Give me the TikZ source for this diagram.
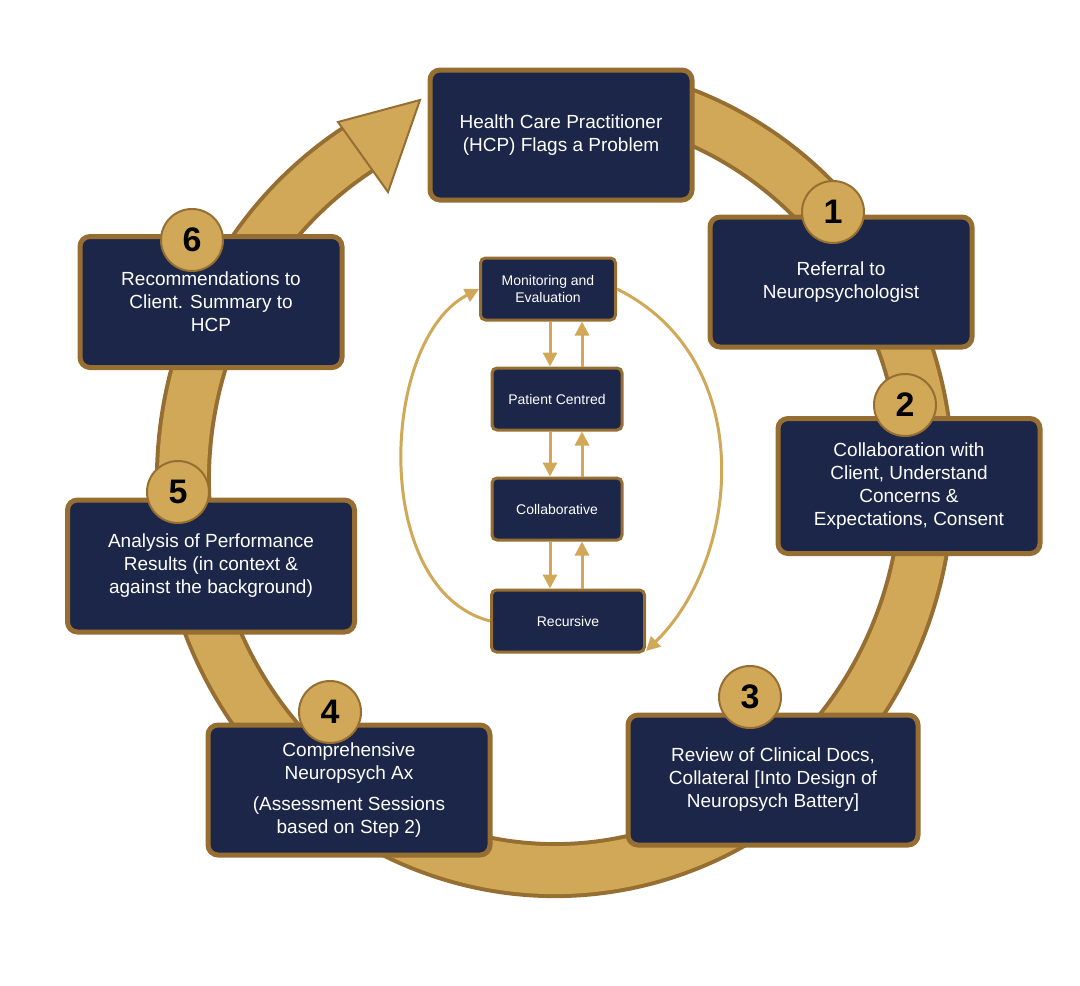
\documentclass[tikz,border=0pt]{standalone}
\usepackage{fontspec}
\setmainfont{Liberation Sans}
\usetikzlibrary{arrows.meta}
\definecolor{navy}{RGB}{28,38,72}
\definecolor{gold}{RGB}{208,168,88}
\definecolor{golddark}{RGB}{150,110,50}
\begin{document}
\begin{tikzpicture}[x=1pt,y=-1pt,
  box/.style={draw=golddark,line width=5pt,fill=navy,rounded corners=10pt,text=white,align=center,font=\fontsize{19}{23}\selectfont,inner sep=0pt},
  cbox/.style={draw=golddark,line width=3pt,fill=navy,rounded corners=5pt,text=white,align=center,font=\fontsize{14}{17}\selectfont,inner sep=0pt},
  badge/.style={circle,draw=golddark,line width=2pt,fill=gold,minimum size=62pt,inner sep=0pt,font=\fontsize{34}{34}\selectfont\bfseries,text=black},
  thin/.style={draw=gold,line width=3pt,-{Triangle[length=14pt,width=14pt]}}]
\useasboundingbox (0,0) rectangle (1080,986);
% ring
\draw[golddark,line width=56pt] (555,480) ++(-70:372 and 390) arc[start angle=-70,end angle=240,x radius=372,y radius=390];
\draw[gold,line width=48pt] (555,480) ++(-70:372 and 390) arc[start angle=-70,end angle=240,x radius=372,y radius=390];
\fill[gold,draw=golddark,line width=2pt] (420,100) -- (338,122) -- (388,192) -- cycle;
% boxes
\node[box,minimum width=262pt,minimum height=130pt] (top) at (561,135) {Health Care Practitioner\\(HCP) Flags a Problem};
\node[box,minimum width=262pt,minimum height=130pt] (b1) at (841,282) {Referral to\\Neuropsychologist};
\node[box,minimum width=262pt,minimum height=135pt] (b2) at (909,486) {Collaboration with\\Client, Understand\\Concerns \&\\Expectations, Consent};
\node[box,minimum width=290pt,minimum height=130pt] (b3) at (773,780) {Review of Clinical Docs,\\Collateral [Into Design of\\Neuropsych Battery]};
\node[box,minimum width=282pt,minimum height=130pt] (b4) at (349,790) {Comprehensive\\Neuropsych Ax\\[8pt](Assessment Sessions\\based on Step 2)};
\node[box,minimum width=287pt,minimum height=132pt] (b5) at (211,566) {Analysis of Performance\\Results (in context \&\\against the background)};
\node[box,minimum width=262pt,minimum height=131pt] (b6) at (211,302) {Recommendations to\\Client. Summary to\\HCP};
\node[badge] (n1) at (833,212) {1};
\node[badge] (n2) at (905,405) {2};
\node[badge] (n3) at (750,697) {3};
\node[badge] (n4) at (330,712) {4};
\node[badge] (n5) at (178,492) {5};
\node[badge] (n6) at (192,240) {6};
% center
\node[cbox,minimum width=135pt,minimum height=62pt] (m) at (548,289) {Monitoring and\\Evaluation};
\node[cbox,minimum width=130pt,minimum height=62pt] (p) at (557,399) {Patient Centred};
\node[cbox,minimum width=130pt,minimum height=62pt] (c) at (557,509) {Collaborative};
\node[cbox,minimum width=153pt,minimum height=62pt] (r) at (568,621) {Recursive};
\foreach \a/\b in {m/p,p/c,c/r}{
  \draw[thin] (\a.south -| 550,0) -- (\b.north -| 550,0);
  \draw[thin] (\b.north -| 582,0) -- (\a.south -| 582,0);
}
\draw[thin] (r.west) .. controls (370,590) and (380,340) .. (m.west);
\draw[thin] (m.east) .. controls (760,360) and (740,560) .. ([yshift=-30pt]r.east);
\end{tikzpicture}
\end{document}
